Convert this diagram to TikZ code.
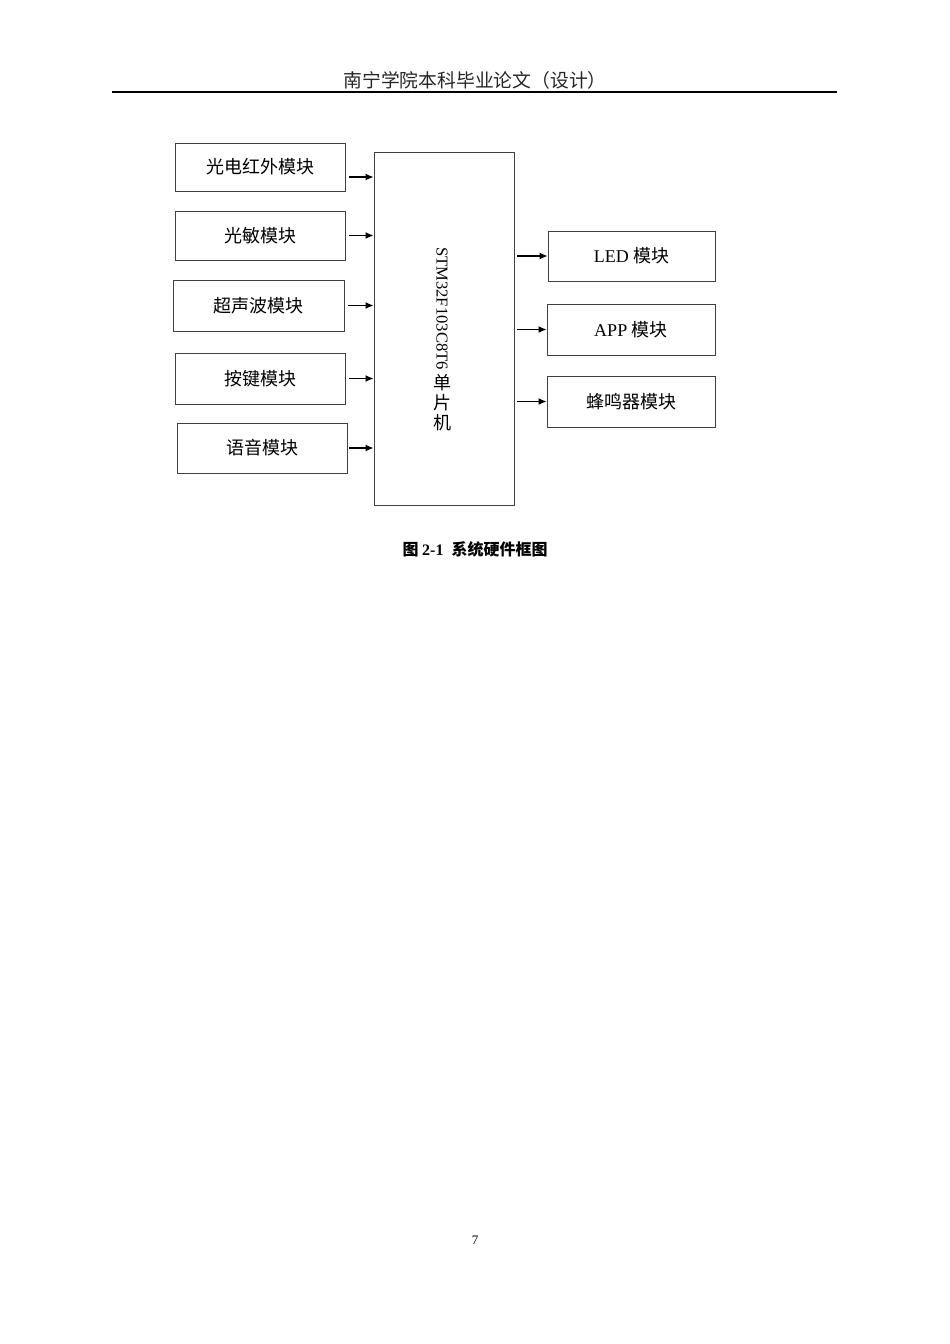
\documentclass[tikz,border=0pt]{standalone}
\usepackage{fontspec}
\setmainfont{Liberation Serif}
\newfontfamily\cjk{Noto Sans CJK SC}
\usetikzlibrary{arrows.meta}

\begin{document}
\begin{tikzpicture}[x=1pt, y=-1pt,
    modbox/.style={draw=black!75, line width=0.9pt, inner sep=0pt, minimum width=170pt, minimum height=50pt, font=\fontsize{18}{20}\selectfont},
    arr/.style={line width=1.2pt, -{Latex[length=8pt,width=7pt]}},]

        % page frame
        \useasboundingbox (0,0) rectangle (950,1344);

        % Header
        \node[font=\cjk\fontsize{18.8}{20}\selectfont, text=black!85] (head) at (475,80) {南宁学院本科毕业论文（设计）};
        \draw[line width=2pt] (112,92) -- (837,92);

        % Input modules
        \node[modbox, minimum height=48pt] (ir) at (260,167) {\cjk 光电红外模块};
        \node[modbox, minimum height=49pt] (light) at (260,235.5) {\cjk 光敏模块};
        \node[modbox, minimum width=171pt, minimum height=51pt] (sonic) at (258.5,305.5) {\cjk 超声波模块};
        \node[modbox, minimum height=51pt] (key) at (260,378.5) {\cjk 按键模块};
        \node[modbox] (voice) at (262,448) {\cjk 语音模块};

        % MCU
        \node[modbox, minimum width=140pt, minimum height=353pt] (mcu) at (444,328.5) {};
        \node[rotate=-90, font=\fontsize{16.6}{20}\selectfont] (mcuname) at (442,308.5) {STM32F103C8T6};
        \node[anchor=north, align=center, inner sep=0pt, font=\cjk\fontsize{18}{20}\selectfont] (mcucn) at (442,374) {单\\片\\机};

        % Output modules
        \node[modbox, minimum width=167pt] (led) at (631.5,256) {LED {\cjk 模块}};
        \node[modbox, minimum width=168pt, minimum height=51pt] (app) at (631,329.5) {APP {\cjk 模块}};
        \node[modbox, minimum width=168pt, minimum height=51pt] (buzz) at (631,401.5) {\cjk 蜂鸣器模块};

        % Arrows into the MCU
        \draw[arr] ([xshift=4pt,yshift=-10pt]ir.east) -- ([yshift=-10pt]ir.east -| mcu.west);
        \draw[arr] ([xshift=4pt]light.east) -- (light.east -| mcu.west);
        \draw[arr] ([xshift=4pt]sonic.east) -- (sonic.east -| mcu.west);
        \draw[arr] ([xshift=4pt]key.east) -- (key.east -| mcu.west);
        \draw[arr] ([xshift=2pt]voice.east) -- (voice.east -| mcu.west);

        % Arrows out of the MCU
        \draw[arr] ([xshift=3pt]mcu.east |- led.west) -- (led.west);
        \draw[arr] ([xshift=3pt]mcu.east |- app.west) -- (app.west);
        \draw[arr] ([xshift=3pt]mcu.east |- buzz.west) -- (buzz.west);

        % Caption
        \node[font=\cjk\bfseries\fontsize{16}{20}\selectfont] (cap) at (475,549) {图 {\rmfamily\bfseries 2-1}\hspace{8pt}系统硬件框图};

        % Page number
        \node[font=\fontsize{13}{15}\selectfont] (page) at (475,1240) {7};

    \end{tikzpicture}
\end{document}
